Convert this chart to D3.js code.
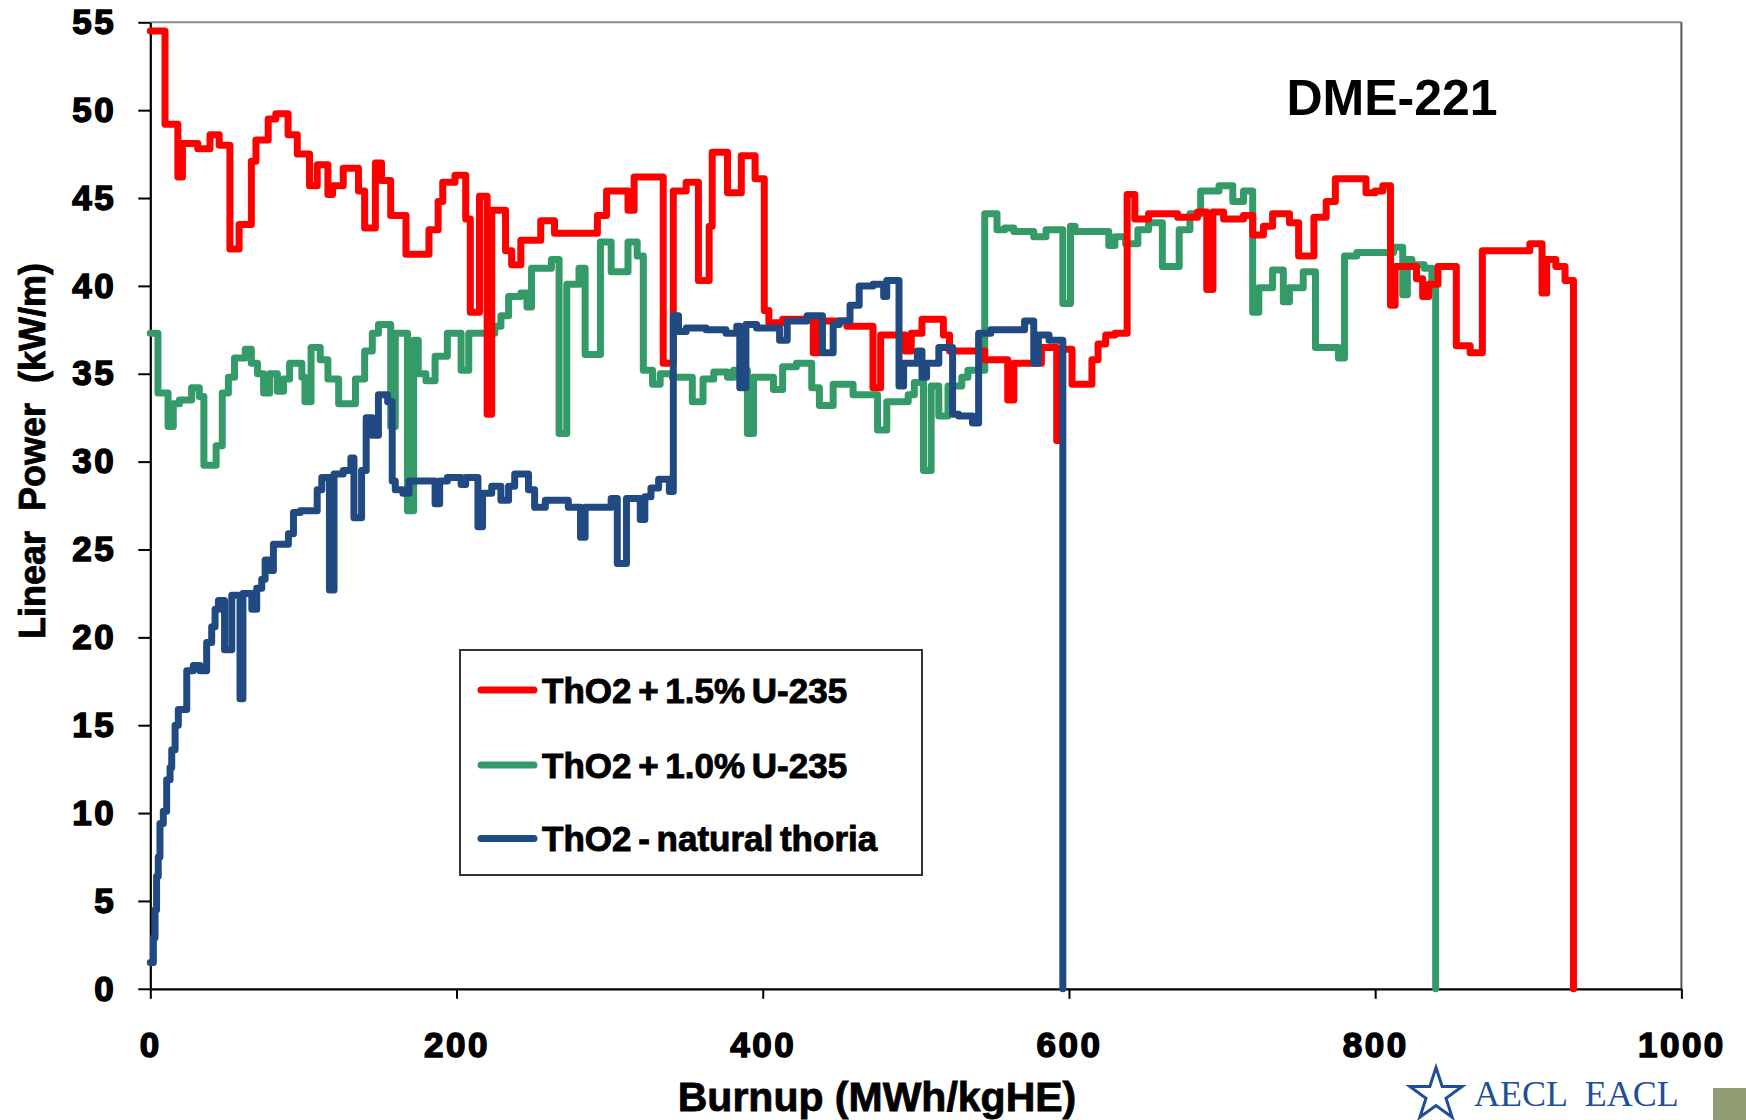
<!DOCTYPE html>
<html>
<head>
<meta charset="utf-8">
<script src="https://cdn.jsdelivr.net/npm/d3@7"></script>
<style>
  body { margin: 0; background: #fff; }
  svg { display: block; }
</style>
</head>
<body>
<svg id="chart" width="1746" height="1120"></svg>
<script>
"use strict";

// Linear power history of the three DME-221 elements, read off the plot as step changes.
// Each burnup value is where a new power level starts; the last point is the drop to zero.

var burnupRed = [0, 9.6, 18, 21, 31, 39, 45, 52, 58, 66, 69, 77, 82, 90, 96, 104, 109, 116, 119, 126,
    136, 140, 147, 151, 157, 167, 182, 188, 191, 199, 206, 209, 215, 220, 223, 232, 236, 242, 255, 264,
    292, 298, 312, 316, 335, 341.6, 350, 358, 365, 367, 377, 386, 395, 401, 404, 413, 433, 437, 455, 472,
    477, 493, 497, 504, 518, 522, 545, 560, 564, 582, 592, 595, 602, 615, 619, 624, 630, 638, 643, 652,
    671, 684, 690, 694, 701, 714, 720, 727, 733, 744, 750, 760, 768, 774, 794, 800, 805, 810, 813, 827,
    831, 835, 841, 853, 862, 870, 901, 909, 912, 918, 924, 929.5];
var powerRed = [54.5, 49.2, 46.2, 48.1, 47.8, 48.6, 48.0, 42.1, 43.5, 47.1, 48.3, 49.5, 49.8, 48.6, 47.5, 45.7, 46.9, 45.2, 45.7, 46.7,
    45.4, 43.3, 47.0, 46.0, 44.0, 41.8, 43.2, 44.8, 45.9, 46.3, 43.8, 38.5, 45.1, 32.7, 44.3, 42.0, 41.2, 42.6, 43.7, 43.0,
    44.0, 45.4, 44.3, 46.2, 35.6, 45.4, 45.9, 40.3, 43.4, 47.6, 45.3, 47.4, 46.1, 38.6, 37.9, 38.1, 36.2, 38.0, 37.7, 34.2,
    37.2, 36.3, 37.3, 38.1, 37.2, 36.3, 35.8, 33.5, 35.6, 36.5, 31.2, 36.4, 34.4, 35.8, 36.7, 37.2, 37.3, 45.2, 43.8, 44.1,
    43.9, 44.2, 39.8, 44.2, 43.8, 44.0, 42.9, 43.4, 44.1, 43.6, 41.7, 43.9, 44.8, 46.1, 45.3, 45.4, 45.7, 38.9, 41.1, 40.4,
    39.4, 40.1, 41.1, 36.6, 36.2, 42.0, 42.4, 39.6, 41.5, 41.1, 40.3, 0];

var burnupGreen = [0, 5, 11.6, 15, 19, 27, 32, 35, 43, 47, 51, 55, 62, 66, 70, 74, 78, 83, 87, 91,
    99, 101, 105, 111, 116, 123, 134, 140, 145, 149, 157, 160, 168, 172, 175, 180, 186, 194, 203, 208,
    225, 229, 234, 242, 246, 249, 262, 267, 272, 280, 284, 294, 301, 312, 318, 322, 328, 333, 341, 354,
    361, 368, 377, 381, 390, 394, 407, 413, 422, 432, 437, 446, 459, 475, 481, 495, 499, 505, 510, 515,
    521, 530, 534, 545, 553, 558, 564, 577, 585, 596, 601, 604, 626, 630, 637, 645, 652, 661, 672, 679,
    686, 698, 707, 714, 720, 724, 733, 740, 744, 753, 761, 776, 780, 788, 812, 818, 821, 824, 832, 837, 839.5];
var powerGreen = [37.3, 33.9, 32.0, 33.3, 33.5, 34.2, 33.7, 29.8, 30.9, 33.9, 34.8, 35.9, 36.4, 35.6, 35.0, 33.9, 35.0, 34.0, 34.7, 35.6,
    34.8, 33.4, 36.5, 35.8, 34.7, 33.3, 34.7, 36.3, 37.3, 37.8, 32.0, 37.3, 27.2, 36.9, 35.0, 34.6, 36.0, 37.3, 35.2, 37.3,
    37.7, 38.3, 39.4, 39.6, 38.8, 41.0, 41.5, 31.6, 40.1, 41.0, 36.1, 42.5, 40.8, 42.5, 41.7, 35.2, 34.4, 35.0, 34.8, 33.4,
    34.7, 35.1, 34.8, 35.2, 31.6, 34.8, 34.1, 35.4, 35.6, 34.2, 33.2, 34.4, 33.8, 31.8, 33.4, 33.8, 34.5, 29.5, 34.3, 32.6,
    34.3, 34.8, 35.2, 44.1, 43.2, 43.3, 43.1, 42.8, 43.2, 39.0, 43.4, 43.1, 42.3, 42.8, 42.4, 43.2, 43.6, 41.1, 43.2, 44.1,
    45.4, 45.7, 44.8, 45.4, 38.5, 39.9, 40.9, 39.1, 39.9, 40.8, 36.5, 35.9, 41.7, 41.9, 42.2, 39.5, 41.5, 41.2, 41.0, 39.9, 0];

var burnupBlue = [0, 2, 3.1, 4.1, 5.2, 6.3, 8.5, 10.7, 12.9, 14, 16.2, 18.3, 23.8, 28.1, 32.5, 36.8, 40.1, 42.3, 44.5, 48.5,
    53.2, 58.6, 60.5, 66.3, 69.5, 72.8, 75, 78.3, 80.4, 90.2, 93.5, 98, 109, 112, 117, 120, 126, 131, 133, 138,
    141, 145, 149, 155, 158, 160, 165, 169, 186, 189, 194, 203, 206, 214, 217, 223, 229, 234, 238, 247,
    251, 258, 273, 281, 284, 301, 305, 311, 320, 323, 327, 332, 339, 341.6, 345, 350, 363, 376, 383, 385,
    389, 396, 411, 416, 429, 439, 446, 450, 457, 463, 472, 479, 481, 489, 492, 501, 504, 507, 515, 524,
    528, 537, 541, 549, 571, 577, 580, 587, 596];
var powerBlue = [1.5, 2.9, 4.5, 6.4, 7.5, 9.4, 10.1, 11.9, 12.6, 13.6, 15.0, 15.9, 18.1, 18.4, 18.1, 19.7, 20.6, 21.6, 22.1, 19.3,
    22.4, 16.5, 22.5, 21.6, 22.8, 23.3, 24.4, 23.8, 25.3, 25.9, 27.1, 27.2, 28.4, 29.1, 22.7, 29.3, 29.5, 30.2, 26.8, 29.5,
    32.5, 31.5, 33.8, 33.4, 28.9, 28.4, 28.2, 28.9, 27.6, 28.9, 29.1, 28.7, 29.1, 26.3, 28.2, 28.6, 27.8, 28.6, 29.3, 28.4,
    27.4, 27.8, 27.4, 25.7, 27.4, 27.9, 24.2, 27.9, 26.7, 28.0, 28.5, 29.0, 28.3, 38.3, 37.4, 37.6, 37.5, 37.3, 37.7, 34.2,
    37.8, 37.6, 36.9, 38.0, 38.3, 36.2, 37.8, 38.0, 38.9, 40.0, 40.1, 39.4, 40.3, 34.3, 35.6, 36.3, 34.8, 35.6, 36.5, 32.7,
    32.6, 32.2, 37.3, 37.5, 38.0, 35.6, 37.2, 36.9, 0];

var seriesNames = ["ThO2 + 1.5% U-235", "ThO2 + 1.0% U-235", "ThO2 - natural thoria"];
var seriesColors = ["#ff0000", "#349a68", "#224a82"];
var xTicks = [0, 200, 400, 600, 800, 1000];
var yTicks = [0, 5, 10, 15, 20, 25, 30, 35, 40, 45, 50, 55];

var series = [
    { name: seriesNames[0], color: seriesColors[0], pts: d3.zip(burnupRed, powerRed) },
    { name: seriesNames[1], color: seriesColors[1], pts: d3.zip(burnupGreen, powerGreen) },
    { name: seriesNames[2], color: seriesColors[2], pts: d3.zip(burnupBlue, powerBlue) }
];

var svg = d3.select("#chart");
var plot = { left: 150.3, right: 1681.4, top: 22.3, bottom: 988.8 };

var x = d3.scaleLinear().domain([0, 1000]).range([plot.left, plot.right]);
var y = d3.scaleLinear().domain([0, 55]).range([plot.bottom, plot.top]);

svg.append("rect").attr("width", 1746).attr("height", 1120).attr("fill", "#fff");

// frame: thin grey on top, dark on the right
svg.append("line")
    .attr("x1", plot.left).attr("x2", plot.right).attr("y1", plot.top).attr("y2", plot.top)
    .attr("stroke", "#8a8a8a").attr("stroke-width", 2);
svg.append("line")
    .attr("x1", plot.right).attr("x2", plot.right).attr("y1", plot.top).attr("y2", plot.bottom)
    .attr("stroke", "#555").attr("stroke-width", 2);

var tickFont = function(g) {
    g.selectAll("text")
        .attr("font-family", "'Liberation Sans', Arial, sans-serif")
        .attr("font-weight", "bold")
        .attr("font-size", 35)
        .attr("letter-spacing", 2.5)
        .attr("fill", "#000")
        .attr("stroke", "#000")
        .attr("stroke-width", 1.5);
    g.selectAll("line").attr("stroke", "#000").attr("stroke-width", 2);
    g.select(".domain").attr("stroke", "#000").attr("stroke-width", 2.2);
};

svg.append("g")
    .attr("transform", "translate(" + plot.left + ",0)")
    .call(d3.axisLeft(y).tickValues(yTicks).tickFormat(d3.format("d"))
        .tickSize(12).tickSizeOuter(0).tickPadding(22))
    .call(tickFont);

svg.append("g")
    .attr("transform", "translate(0," + plot.bottom + ")")
    .call(d3.axisBottom(x).tickValues(xTicks).tickFormat(d3.format("d"))
        .tickSize(10).tickSizeOuter(0).tickPadding(33))
    .call(tickFont);

// series, drawn green first so red and blue sit over it
var line = d3.line()
    .x(function(d) { return x(d[0]); })
    .y(function(d) { return y(d[1]); })
    .curve(d3.curveStepAfter);

[1, 0, 2].forEach(function(i) {
    svg.append("path")
        .datum(series[i].pts)
        .attr("d", line)
        .attr("fill", "none")
        .attr("stroke", series[i].color)
        .attr("stroke-width", 7)
        .attr("stroke-linejoin", "round")
        .attr("stroke-linecap", "round");
});

// axis titles
svg.append("text")
    .attr("x", 877).attr("y", 1111)
    .attr("text-anchor", "middle")
    .attr("font-family", "'Liberation Sans', Arial, sans-serif")
    .attr("font-weight", "bold").attr("font-size", 41)
    .attr("stroke", "#000").attr("stroke-width", 0.8)
    .text("Burnup (MWh/kgHE)");

svg.append("text")
    .attr("transform", "translate(45,451) rotate(-90)")
    .attr("text-anchor", "middle")
    .attr("font-family", "'Liberation Sans', Arial, sans-serif")
    .attr("font-weight", "bold").attr("font-size", 36)
    .attr("stroke", "#000").attr("stroke-width", 0.8)
    .style("white-space", "pre")
    .text("Linear  Power  (kW/m)");

svg.append("text")
    .attr("x", 1392).attr("y", 115)
    .attr("text-anchor", "middle")
    .attr("font-family", "'Liberation Sans', Arial, sans-serif")
    .attr("font-weight", "bold").attr("font-size", 50)
    .text("DME-221");

// legend
var legend = svg.append("g").attr("transform", "translate(460,650)");
legend.append("rect")
    .attr("width", 462).attr("height", 225)
    .attr("fill", "#fff").attr("stroke", "#333").attr("stroke-width", 2);

var rows = legend.selectAll("g.row").data(series).enter().append("g")
    .attr("class", "row")
    .attr("transform", function(d, i) { return "translate(0," + [40, 115, 188.5][i] + ")"; });
rows.append("line")
    .attr("x1", 21).attr("x2", 74)
    .attr("stroke", function(d) { return d.color; })
    .attr("stroke-width", 7).attr("stroke-linecap", "round");
rows.append("text")
    .attr("x", 82).attr("dy", "0.36em")
    .attr("font-family", "'Liberation Sans', Arial, sans-serif")
    .attr("font-weight", "bold").attr("font-size", 35)
    .attr("word-spacing", -3)
    .attr("stroke", "#000").attr("stroke-width", 0.9)
    .text(function(d) { return d.name; });

// company mark in the lower right corner
var logo = svg.append("g");
logo.append("path")
    .attr("transform", "translate(1436,1095)")
    .attr("d", d3.symbol(d3.symbolStar, 850)())
    .attr("fill", "none").attr("stroke", "#1f4f9a").attr("stroke-width", 3);
logo.append("text")
    .attr("x", 1474).attr("y", 1106)
    .attr("font-family", "'Liberation Serif', 'Times New Roman', serif")
    .attr("font-size", 36).attr("fill", "#1f4f9a")
    .style("white-space", "pre")
    .text("AECL  EACL");
logo.append("rect")
    .attr("x", 1713).attr("y", 1088).attr("width", 33).attr("height", 32)
    .attr("fill", "#8f9c74");
</script>
</body>
</html>
